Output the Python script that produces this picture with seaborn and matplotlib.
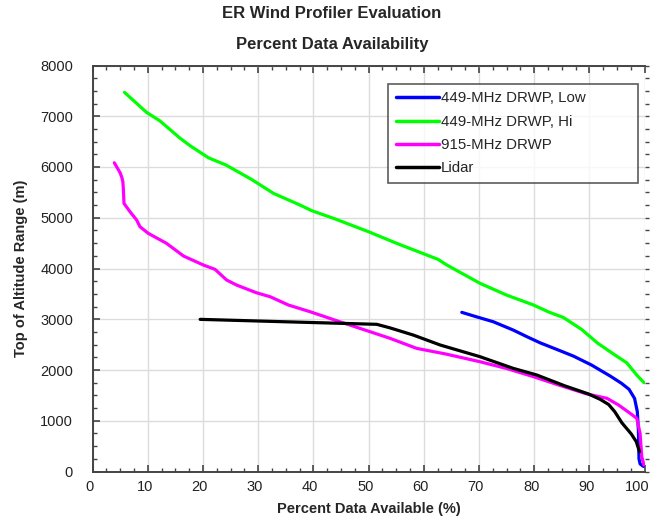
import numpy as np
import pandas as pd
import matplotlib
matplotlib.use("Agg")
import matplotlib.pyplot as plt
import matplotlib.transforms as mtransforms
import seaborn as sns
from matplotlib.ticker import MultipleLocator

sns.set_theme(style="white")
plt.rcParams['font.family'] = ['Liberation Sans', 'DejaVu Sans']

series_names = ["449-MHz DRWP, Low", "449-MHz DRWP, Hi", "915-MHz DRWP", "Lidar"]
series_colors = ["#0000FF", "#00FF00", "#FF00FF", "#000000"]

low_x = [66.9, 69.5, 72.6, 76.2, 78.7, 81.1, 84.0, 87.1, 90.4, 93.8, 95.8, 97.2, 98.2, 98.7, 98.9, 99.0, 99.2, 99.8]
low_y = [3136, 3050, 2951, 2788, 2656, 2535, 2410, 2275, 2098, 1880, 1740, 1620, 1440, 1180, 800, 250, 150, 100]

hi_x = [5.8, 9.8, 12.2, 15.9, 17.7, 21.0, 24.2, 28.8, 32.8, 37.6, 39.7, 44.0, 50.0, 55.1, 62.6, 64.2,
        70.2, 75.0, 79.9, 82.7, 85.3, 88.6, 91.5, 94.2, 96.8, 98.6, 99.9]
hi_y = [7470, 7076, 6910, 6564, 6418, 6182, 6038, 5756, 5480, 5250, 5140, 4975, 4725, 4496, 4180, 4068,
        3708, 3477, 3280, 3140, 3035, 2800, 2530, 2328, 2140, 1900, 1750]

mhz915_x = [3.95, 5.0, 5.3, 5.5, 5.6, 5.7, 6.8, 8.0, 8.6, 10.1, 13.4, 16.5, 20.1, 22.2, 24.3, 26.1, 29.7,
            32.2, 35.5, 39.4, 44.8, 50.3, 53.9, 58.7, 64.0, 70.2, 75.0, 79.9, 84.0, 89.5, 93.2, 95.3,
            97.4, 98.6, 99.2, 99.5, 99.9]
mhz915_y = [6083, 5887, 5800, 5710, 5546, 5283, 5118, 4955, 4823, 4693, 4496, 4245, 4068, 3983, 3773, 3674,
            3522, 3443, 3280, 3149, 2951, 2754, 2624, 2427, 2315, 2163, 2030, 1868, 1720, 1530, 1442, 1310,
            1146, 1048, 752, 291, 128]

lidar_x = [19.5, 35.0, 51.5, 53.9, 58.1, 63.0, 70.2, 76.2, 80.5, 85.5, 89.8, 92.0, 93.5, 94.6, 95.9, 97.6, 98.5, 99.1]
lidar_y = [2998, 2950, 2900, 2830, 2689, 2492, 2262, 2033, 1901, 1690, 1530, 1420, 1320, 1180, 960, 740, 590, 390]

x_ticks = [0, 10, 20, 30, 40, 50, 60, 70, 80, 90, 100]
y_ticks = [0, 1000, 2000, 3000, 4000, 5000, 6000, 7000, 8000]

frames = []
for name, xs, ys in zip(series_names, [low_x, hi_x, mhz915_x, lidar_x], [low_y, hi_y, mhz915_y, lidar_y]):
    frames.append(pd.DataFrame({"pct": xs, "alt": ys, "series": name}))
df = pd.concat(frames, ignore_index=True)

fig = plt.figure(figsize=(6.53, 5.22), dpi=100)
ax = fig.add_axes([92.5 / 653, 1 - 471.5 / 522, (644.5 - 92.5) / 653, (471.5 - 65.5) / 522])

sns.lineplot(data=df, x="pct", y="alt", hue="series", hue_order=series_names,
             palette=dict(zip(series_names, series_colors)), sort=False, estimator=None,
             units="series", linewidth=2.3, ax=ax)

ax.set_xlim(0, 100)
ax.set_ylim(0, 8000)
ax.set_xticks(x_ticks)
ax.set_yticks(y_ticks)
ax.xaxis.set_minor_locator(MultipleLocator(2.5))
ax.yaxis.set_minor_locator(MultipleLocator(250))
ax.grid(True, which="major", color="#dcdcdc", linewidth=1.0)
ax.set_axisbelow(True)

for side in ["left", "bottom", "top"]:
    ax.spines[side].set_visible(True)
    ax.spines[side].set_color("#444444")
    ax.spines[side].set_linewidth(1.4)
ax.spines["right"].set_visible(False)

ax.tick_params(axis="both", which="major", direction="in", length=5, width=1.2, color="#444444",
               labelsize=10.5, labelcolor="#222222", top=True, bottom=True, left=True, right=False, pad=6)
ax.tick_params(axis="both", which="minor", direction="in", length=3, width=1.0, color="#444444",
               top=True, bottom=True, left=True, right=False)
ax.tick_params(axis="y", which="major", pad=14)

# shift x tick labels slightly left, as in the reference
for i, lab in enumerate(ax.get_xticklabels()):
    dx = -7 if i == len(x_ticks) - 1 else -3
    lab.set_transform(lab.get_transform() + mtransforms.ScaledTranslation(dx / 100, 0, fig.dpi_scale_trans))

sec = ax.secondary_yaxis("right")
sec.set_yticks(y_ticks)
sec.yaxis.set_minor_locator(MultipleLocator(250))
sec.tick_params(which="both", direction="out", length=3, width=1.0, color="#444444", labelright=False)
sec.spines["right"].set_visible(False)

ax.set_xlabel("Percent Data Available (%)", fontsize=10.5, fontweight="bold", labelpad=6)
ax.set_ylabel("Top of Altitude Range (m)", fontsize=10.5, fontweight="bold", labelpad=9)

fig.text(332 / 653, 1 - 14 / 522, "ER Wind Profiler Evaluation", ha="center", va="center",
         fontsize=12, fontweight="bold")
fig.text(332 / 653, 1 - 44 / 522, "Percent Data Availability", ha="center", va="center",
         fontsize=12, fontweight="bold")

x0 = (388 - 92.5) / 552
w = (638 - 388) / 552
top = (471.5 - 84) / 406
leg = ax.legend(loc="upper left", bbox_to_anchor=(x0, top - 0.4, w, 0.4), mode="expand", borderaxespad=0,
                fontsize=10.8, handlelength=2.9, handletextpad=0.12, labelspacing=0.62,
                frameon=True, fancybox=False, borderpad=0.5)
leg.get_frame().set_edgecolor("#333333")
leg.get_frame().set_linewidth(1.2)
for line in leg.get_lines():
    line.set_linewidth(2.5)

fig.savefig("out.png", dpi=100)
